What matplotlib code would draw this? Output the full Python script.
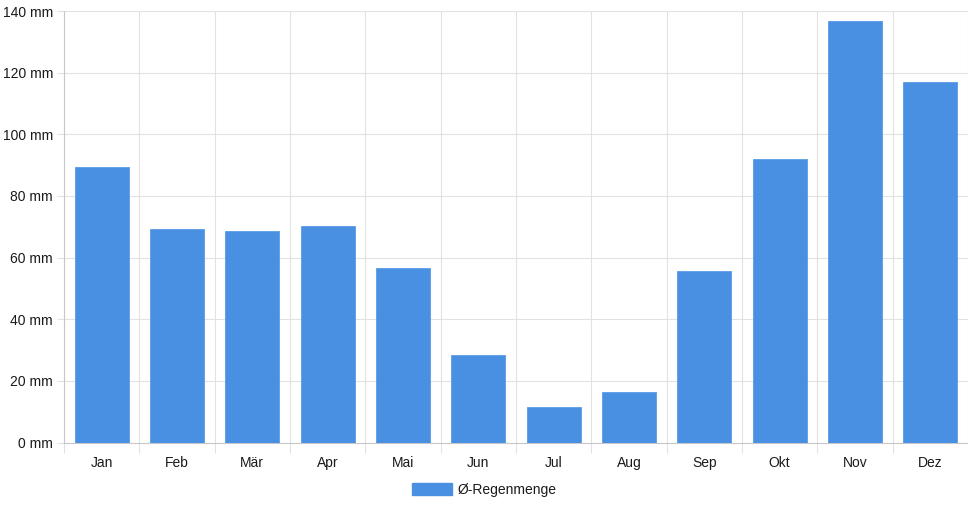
import matplotlib
matplotlib.use("Agg")
import matplotlib.pyplot as plt
import numpy as np
from matplotlib.patches import Patch

months = ["Jan", "Feb", "Mär", "Apr", "Mai", "Jun", "Jul", "Aug", "Sep", "Okt", "Nov", "Dez"]
rain = [89.5, 69.2, 68.5, 70.3, 56.7, 28.4, 11.4, 16.4, 55.7, 91.9, 136.8, 116.9]
yticks = [0, 20, 40, 60, 80, 100, 120, 140]
series_name = "Ø-Regenmenge"

plt.rcParams['font.family'] = ['Liberation Sans', 'DejaVu Sans']

fig = plt.figure(figsize=(9.68, 5.08), dpi=100)
ax = fig.add_axes([64/968, 65.5/508, 904/968, 431.5/508])

x = np.arange(len(months))
color = "#4a90e2"
ax.bar(x, rain, width=0.72, color=color, edgecolor="#5b9be6", linewidth=0.6, zorder=3)

ax.set_xlim(-0.5, len(months) - 0.5)
ax.set_ylim(0, 140)
ax.set_yticks(yticks)
ax.set_yticklabels([f"{v} mm" for v in yticks])
ax.set_xticks(x)
ax.set_xticklabels(months)
ax.set_xticks(np.arange(len(months) + 1) - 0.5, minor=True)

grid_c = "#e2e2e2"
txt_c = "#1a1a1a"
ax.grid(axis='y', which='major', color=grid_c, linewidth=0.8, zorder=0)
ax.grid(axis='x', which='minor', color=grid_c, linewidth=0.8, zorder=0)
ax.tick_params(axis='x', which='major', length=0, pad=10, labelsize=10, colors=txt_c)
ax.tick_params(axis='x', which='minor', length=7.2, color=grid_c, width=0.8)
ax.tick_params(axis='y', which='major', length=5, color=grid_c, width=0.8, pad=3, labelsize=10, labelcolor=txt_c)

for s in ['top', 'right']:
    ax.spines[s].set_visible(False)
ax.spines['left'].set_color('#c8c8cc')
ax.spines['bottom'].set_color('#c8c8cc')
ax.spines['left'].set_linewidth(0.8)
ax.spines['bottom'].set_linewidth(0.8)

handle = Patch(facecolor=color, edgecolor=color)
leg = fig.legend([handle], [series_name], loc='center', bbox_to_anchor=(484/968, 1 - 490/508),
                 frameon=False, fontsize=10, handlelength=2.9, handleheight=1.0, handletextpad=0.4)
for t in leg.get_texts():
    t.set_color(txt_c)

fig.savefig("out.png", dpi=100)
